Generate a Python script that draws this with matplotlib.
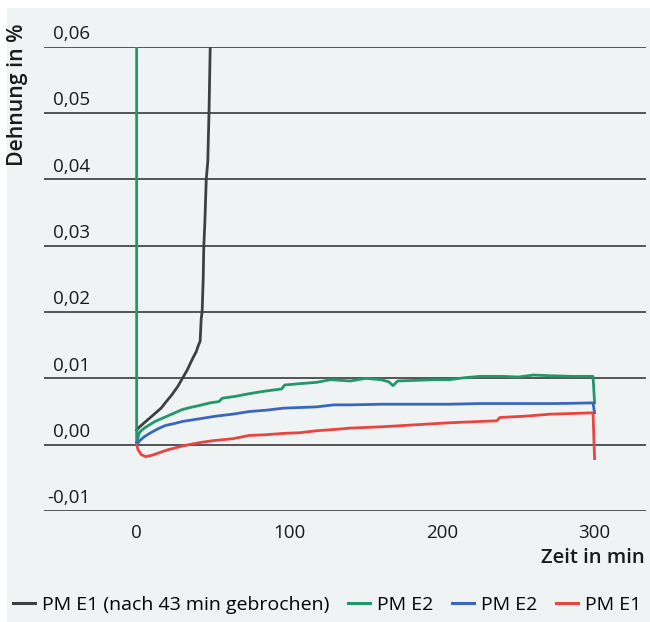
import matplotlib
matplotlib.use("Agg")
import matplotlib.pyplot as plt
from matplotlib.patches import Rectangle
from matplotlib.lines import Line2D

plt.rcParams['font.family'] = ['Open Sans', 'DejaVu Sans']

# ---------------- data ----------------
black_t = [0, 2, 5, 8.5, 12, 16, 19.4, 23, 27, 30, 33, 36.7, 39, 40.5, 41.6,
           42.3, 42.9, 43.6, 44.0, 44.6, 44.9, 45.6, 46.6, 47.4, 48.2, 48.6]
black_v = [0.0022, 0.0027, 0.0033, 0.0040, 0.0047, 0.0055, 0.0065, 0.0075, 0.0088,
           0.0100, 0.0112, 0.0130, 0.0140, 0.0150, 0.0156, 0.0190, 0.0200, 0.0250,
           0.0300, 0.0330, 0.0350, 0.0400, 0.0427, 0.0500, 0.0600, 0.0700]

green_t = [0, 0, 1, 2, 5, 8.5, 12, 19, 25, 30, 35, 41, 48, 54, 56, 65, 74, 85, 95,
           97, 107, 118, 127, 140, 150, 160, 165, 168, 171, 183, 195, 205, 215, 225,
           240, 250, 260, 270, 285, 299, 300]
green_v = [0.0700, 0.0000, 0.0012, 0.0019, 0.0025, 0.0030, 0.0035, 0.0042, 0.0048,
           0.0053, 0.0056, 0.0059, 0.0063, 0.0065, 0.0070, 0.0073, 0.0077, 0.0081,
           0.0084, 0.0090, 0.0092, 0.0094, 0.0098, 0.0096, 0.0100, 0.0098, 0.0095,
           0.0089, 0.0096, 0.0097, 0.0098, 0.0098, 0.0101, 0.0103, 0.0103, 0.0102,
           0.0105, 0.0104, 0.0103, 0.0103, 0.0063]

blue_t = [0, 2, 5, 8.5, 14, 19, 25, 30, 41, 52, 63, 74, 85, 96, 107, 118, 129, 140,
          161, 183, 205, 225, 250, 275, 299, 300]
blue_v = [0.0000, 0.0006, 0.0012, 0.0017, 0.0024, 0.0029, 0.0032, 0.0035, 0.0039,
          0.0043, 0.0046, 0.0050, 0.0052, 0.0055, 0.0056, 0.0057, 0.0060, 0.0060,
          0.0061, 0.0061, 0.0061, 0.0062, 0.0062, 0.0062, 0.0063, 0.0048]

red_t = [0, 1, 3, 6, 10, 15, 20, 25, 30, 41, 50, 63, 74, 85, 96, 107, 118, 130, 140,
         161, 183, 205, 225, 236, 238, 255, 271, 285, 299, 300]
red_v = [0.0000, -0.0008, -0.0015, -0.0018, -0.0016, -0.0012, -0.0008, -0.0005,
         -0.0002, 0.0003, 0.0006, 0.0009, 0.0014, 0.0015, 0.0017, 0.0018, 0.0021,
         0.0023, 0.0025, 0.0027, 0.0030, 0.0033, 0.0035, 0.0036, 0.0041, 0.0043,
         0.0046, 0.0047, 0.0048, -0.0021]

y_ticks = [-0.01, 0.0, 0.01, 0.02, 0.03, 0.04, 0.05, 0.06]
y_labels = ['-0,01', '0,00', '0,01', '0,02', '0,03', '0,04', '0,05', '0,06']
x_ticks = [0, 100, 200, 300]
x_labels = ['0', '100', '200', '300']
series_labels = ['PM E1 (nach 43 min gebrochen)', 'PM E2', 'PM E2', 'PM E1']
colors = ['#3f3f3f', '#21976a', '#3a66bd', '#ea4440']

# ---------------- figure ----------------
fig = plt.figure(figsize=(6.5, 6.22), dpi=100, facecolor='white')
fig.patches.append(Rectangle((7 / 650, 0), 1, 1 - 8 / 622, transform=fig.transFigure,
                             facecolor='#eff3f4', edgecolor='none', zorder=-10))

ax = fig.add_axes([44.3 / 650, 1 - 511 / 622, (646 - 44.3) / 650, (511 - 46.7) / 622])
ax.set_facecolor('none')
ax.set_xlim(-60.5, 333.7)
ax.set_ylim(-0.01, 0.06)
for s in ax.spines.values():
    s.set_visible(False)

for v in y_ticks:
    ax.axhline(v, color='#3a3a3a', lw=1.2, zorder=1)

ax.set_yticks([])
ax.set_xticks(x_ticks)
ax.set_xticklabels(x_labels, fontsize=13.5, color='#1a1a1a')
ax.tick_params(axis='x', length=0, pad=9)

for v, lab in zip(y_ticks, y_labels):
    ax.annotate(lab, xy=(0.0765, v), xycoords=('axes fraction', 'data'),
                xytext=(0, 5.5), textcoords='offset points', ha='right',
                va='baseline', fontsize=13.5, color='#1a1a1a')

series = [(black_t, black_v), (green_t, green_v), (blue_t, blue_v), (red_t, red_v)]
handles = []
for (t, v), c, lab in zip(series, colors, series_labels):
    ax.plot(t, v, color=c, lw=2.0, zorder=3, solid_joinstyle='round')
    handles.append(Line2D([], [], color=c, lw=2.2, label=lab))

fig.text(645 / 650, 1 - 562.7 / 622, 'Zeit in min', ha='right', va='baseline',
         fontsize=14.6, fontweight='semibold', color='#1a1a1a')
fig.text(7.5 / 650, 1 - 24 / 622, 'Dehnung in %', rotation=90, ha='left', va='top',
         fontsize=15.3, fontweight='semibold', color='#1a1a1a')

fig.legend(handles=handles, loc='center left', bbox_to_anchor=(13 / 650, 1 - 605 / 622),
           ncol=4, frameon=False, fontsize=14, handlelength=1.15, handletextpad=0.35,
           columnspacing=0.95, borderaxespad=0, borderpad=0)

fig.savefig('out.png', dpi=100, facecolor=fig.get_facecolor())
